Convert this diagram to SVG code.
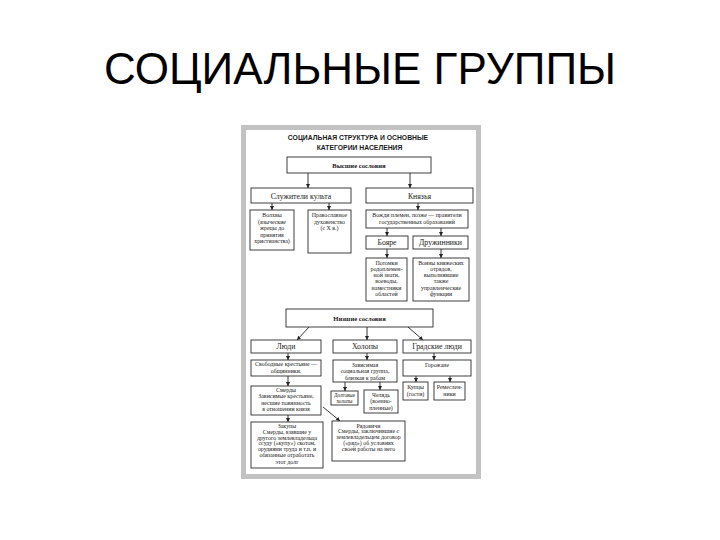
<svg xmlns="http://www.w3.org/2000/svg" width="720" height="540" viewBox="0 0 720 540">
<defs>
<marker id="ah" viewBox="0 0 6 6" refX="6" refY="3" markerWidth="4" markerHeight="4" orient="auto" markerUnits="userSpaceOnUse">
<path d="M0,0 L6,3 L0,6 z" fill="#222"/>
</marker>
<style>
.title{font-family:"Liberation Sans",Arial,sans-serif;font-size:44px;fill:#000;text-anchor:middle}
.head{font-family:"Liberation Sans",Arial,sans-serif;font-size:6.8px;font-weight:bold;fill:#1a1a1a;text-anchor:middle}
.box{fill:#fff;stroke:#2a2a2a;stroke-width:0.9}
.lb{font-family:"Liberation Serif","Times New Roman",serif;font-size:7.8px;fill:#1a1a1a;text-anchor:middle}
.lbb{font-family:"Liberation Serif","Times New Roman",serif;font-size:6.6px;font-weight:bold;fill:#1a1a1a;text-anchor:middle}
.sm{font-family:"Liberation Serif","Times New Roman",serif;font-size:5.9px;fill:#1a1a1a;text-anchor:middle}
.xs{font-family:"Liberation Serif","Times New Roman",serif;font-size:5.1px;fill:#1a1a1a;text-anchor:middle}
.ln{stroke:#222;stroke-width:0.9;fill:none;marker-end:url(#ah)}
</style>
</defs>
<rect width="720" height="540" fill="#fff"/>
<text class="title" x="360" y="84">СОЦИАЛЬНЫЕ ГРУППЫ</text>
<rect x="243.5" y="127.5" width="235" height="349" fill="#fff" stroke="#c2c2c2" stroke-width="5"/>
<text class="head" x="358" y="140">СОЦИАЛЬНАЯ СТРУКТУРА  И ОСНОВНЫЕ</text>
<text class="head" x="359.5" y="149.5">КАТЕГОРИИ  НАСЕЛЕНИЯ</text>

<g id="vysshie"><rect class="box" x="287" y="157" width="144" height="16"/><text class="lbb" x="359" y="167.5">Высшие сословия</text></g>
<g id="sluzhiteli"><rect class="box" x="251" y="188" width="100" height="15"/><text class="lb" x="301" y="198.5">Служители культа</text></g>
<g id="knyazya"><rect class="box" x="366" y="188" width="107" height="15"/><text class="lb" x="419.5" y="198.5">Князья</text></g>
<g id="volkhvy"><rect class="box" x="250" y="210" width="44" height="40"/>
<text class="sm" x="272" y="217">Волхвы</text><text class="sm" x="272" y="223.5">(языческие</text><text class="sm" x="272" y="230">жрецы до</text><text class="sm" x="272" y="236.5">принятия</text><text class="sm" x="272" y="243">христианства)</text></g>
<g id="pravoslavnoe"><rect class="box" x="308" y="210" width="43" height="43"/>
<text class="sm" x="329.5" y="217">Православное</text><text class="sm" x="329.5" y="223.5">духовенство</text><text class="sm" x="329.5" y="230">(с X в.)</text></g>
<g id="vozhdi"><rect class="box" x="366" y="210" width="102" height="18"/>
<text class="sm" x="417" y="217">Вожди племен, позже — правители</text><text class="sm" x="417" y="223.8">государственных образований</text></g>
<g id="boyare"><rect class="box" x="366" y="236" width="42" height="13"/><text class="lb" x="387" y="245.3">Бояре</text></g>
<g id="druzhinniki"><rect class="box" x="413" y="236" width="55" height="13"/><text class="lb" x="440.5" y="245.3">Дружинники</text></g>
<g id="potomki"><rect class="box" x="366" y="258" width="41" height="43"/>
<text class="sm" x="386.5" y="264.5">Потомки</text><text class="sm" x="386.5" y="270.8">родоплемен-</text><text class="sm" x="386.5" y="277.1">ной знати,</text><text class="sm" x="386.5" y="283.4">воеводы,</text><text class="sm" x="386.5" y="289.7">наместники</text><text class="sm" x="386.5" y="296">областей</text></g>
<g id="voiny"><rect class="box" x="413" y="258" width="56" height="43"/>
<text class="sm" x="441" y="264.5">Воины княжеских</text><text class="sm" x="441" y="270.8">отрядов,</text><text class="sm" x="441" y="277.1">выполнявшие</text><text class="sm" x="441" y="283.4">также</text><text class="sm" x="441" y="289.7">управленческие</text><text class="sm" x="441" y="296">функции</text></g>

<g id="nizshie"><rect class="box" x="286" y="309" width="147" height="18"/><text class="lbb" x="359.5" y="320.5">Низшие сословия</text></g>
<g id="lyudi"><rect class="box" x="251" y="340" width="70" height="13"/><text class="lb" x="286" y="349.3">Люди</text></g>
<g id="kholopy"><rect class="box" x="333" y="340" width="64" height="13"/><text class="lb" x="365" y="349.3">Холопы</text></g>
<g id="gradskie"><rect class="box" x="403" y="340" width="68" height="13"/><text class="lb" x="437" y="349.3">Градские люди</text></g>
<g id="svobodnye"><rect class="box" x="251" y="360" width="70" height="16"/>
<text class="sm" x="286" y="366">Свободные крестьяне —</text><text class="sm" x="286" y="373">общинники.</text></g>
<g id="zavisimaya"><rect class="box" x="333" y="360" width="64" height="22"/>
<text class="sm" x="365" y="366.5">Зависимая</text><text class="sm" x="365" y="373">социальная группа,</text><text class="sm" x="365" y="379.5">близкая к рабам</text></g>
<g id="gorozhane"><rect class="box" x="403" y="360" width="68" height="16"/><text class="sm" x="437" y="367">Горожане</text></g>
<g id="kuptsy"><rect class="box" x="403" y="382" width="25" height="18"/>
<text class="sm" x="415.5" y="389">Купцы</text><text class="sm" x="415.5" y="395.5">(гости)</text></g>
<g id="remeslenniki"><rect class="box" x="434" y="382" width="31" height="18"/>
<text class="sm" x="449.5" y="389">Ремеслен-</text><text class="sm" x="449.5" y="395.5">ники</text></g>
<g id="dolgovye"><rect class="box" x="331" y="391" width="27" height="14"/>
<text class="xs" x="344.5" y="397">Долговые</text><text class="xs" x="344.5" y="402.6">холопы</text></g>
<g id="chelyad"><rect class="box" x="364" y="390" width="34" height="23"/>
<text class="sm" x="381" y="397">Челядь</text><text class="sm" x="381" y="403.3">(военно-</text><text class="sm" x="381" y="409.6">пленные)</text></g>
<g id="smerdy"><rect class="box" x="251" y="386" width="70" height="29"/>
<text class="sm" x="286" y="391.5">Смерды</text><text class="sm" x="286" y="398">Зависимые крестьяне,</text><text class="sm" x="286" y="404.5">несшие повинность</text><text class="sm" x="286" y="411">в отношении князя</text></g>
<g id="zakupy"><rect class="box" x="251" y="422" width="72" height="46"/>
<text class="sm" x="287" y="428">Закупы</text><text class="sm" x="287" y="433.8">Смерды, взявшие у</text><text class="sm" x="287" y="439.6">другого землевладельца</text><text class="sm" x="287" y="445.4">ссуду («купу») скотом,</text><text class="sm" x="287" y="451.2">орудиями труда и т.п. и</text><text class="sm" x="287" y="457">обязанные отработать</text><text class="sm" x="287" y="463.5">этот долг</text></g>
<g id="ryadovichi"><rect class="box" x="332" y="421" width="73" height="40"/>
<text class="sm" x="368.5" y="427.5">Рядовичи</text><text class="sm" x="368.5" y="433.3">Смерды, заключившие с</text><text class="sm" x="368.5" y="439.1">землевладельцем договор</text><text class="sm" x="368.5" y="444.9">(«ряд») об условиях</text><text class="sm" x="368.5" y="450.7">своей работы на него</text></g>

<g id="connectors">
<line class="ln" x1="308" y1="173" x2="308" y2="188"/>
<line class="ln" x1="410" y1="173" x2="410" y2="188"/>
<line class="ln" x1="272" y1="203" x2="272" y2="210"/>
<line class="ln" x1="329" y1="203" x2="329" y2="210"/>
<line class="ln" x1="418" y1="203" x2="418" y2="210"/>
<line class="ln" x1="387" y1="228" x2="387" y2="236"/>
<line class="ln" x1="441" y1="228" x2="441" y2="236"/>
<line class="ln" x1="387" y1="249" x2="387" y2="258"/>
<line class="ln" x1="441" y1="249" x2="441" y2="258"/>
<line class="ln" x1="309" y1="327" x2="297" y2="340"/>
<line class="ln" x1="367" y1="327" x2="367" y2="340"/>
<line class="ln" x1="408" y1="327" x2="423" y2="340"/>
<line class="ln" x1="288" y1="353" x2="288" y2="360"/>
<line class="ln" x1="367" y1="353" x2="367" y2="360"/>
<line class="ln" x1="434" y1="353" x2="434" y2="360"/>
<line class="ln" x1="288" y1="376" x2="288" y2="386"/>
<line class="ln" x1="345" y1="382" x2="345" y2="391"/>
<line class="ln" x1="380" y1="382" x2="380" y2="390"/>
<line class="ln" x1="416" y1="376" x2="416" y2="382"/>
<line class="ln" x1="450" y1="376" x2="450" y2="382"/>
<line class="ln" x1="288" y1="415" x2="288" y2="422"/>
<line class="ln" x1="323" y1="407" x2="340" y2="421"/>
</g>
</svg>
